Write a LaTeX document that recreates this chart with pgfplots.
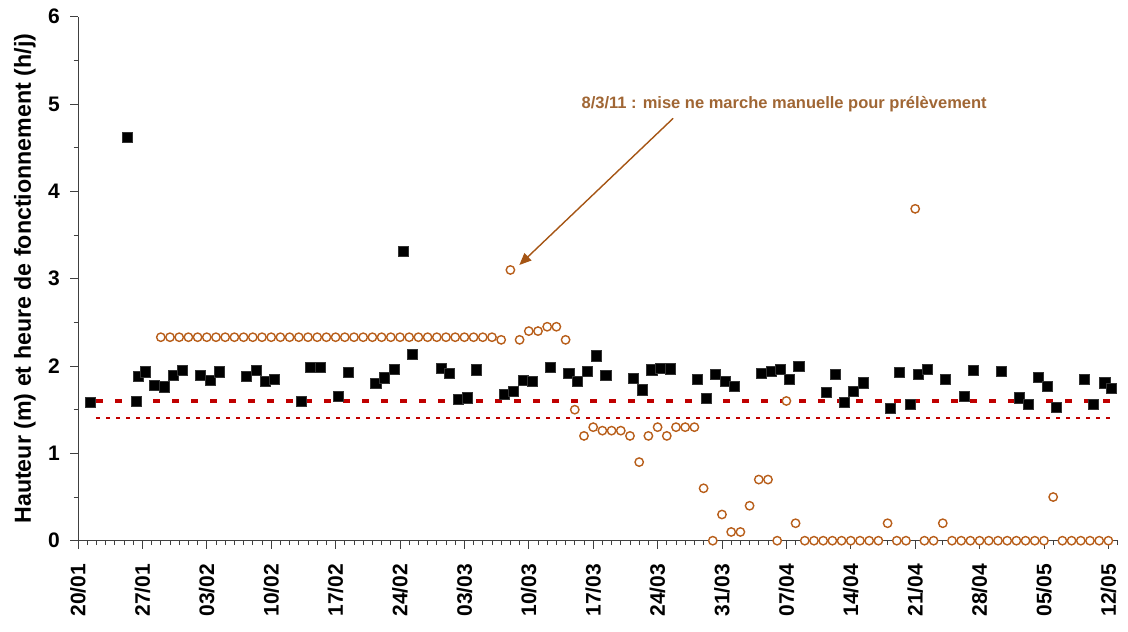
\documentclass[border=0pt]{standalone}
\usepackage{fontspec}
\setmainfont{Liberation Sans}
\usepackage{pgfplots}
\usepackage{pgfplotstable}
\pgfplotsset{compat=1.18}
\usetikzlibrary{arrows.meta}
\definecolor{orng}{RGB}{184,94,26}
\definecolor{annot}{RGB}{160,102,52}
\definecolor{arr}{RGB}{165,85,20}
\definecolor{dred}{RGB}{192,0,0}

\pgfplotstableread{
x y
9 2.33
10 2.33
11 2.33
12 2.33
13 2.33
14 2.33
15 2.33
16 2.33
17 2.33
18 2.33
19 2.33
20 2.33
21 2.33
22 2.33
23 2.33
24 2.33
25 2.33
26 2.33
27 2.33
28 2.33
29 2.33
30 2.33
31 2.33
32 2.33
33 2.33
34 2.33
35 2.33
36 2.33
37 2.33
38 2.33
39 2.33
40 2.33
41 2.33
42 2.33
43 2.33
44 2.33
45 2.33
46 2.30
47 3.10
48 2.30
49 2.40
50 2.40
51 2.45
52 2.45
53 2.30
54 1.50
55 1.20
56 1.30
57 1.26
58 1.26
59 1.26
60 1.20
61 0.90
62 1.20
63 1.30
64 1.20
65 1.30
66 1.30
67 1.30
68 0.60
69 0
70 0.30
71 0.10
72 0.10
73 0.40
74 0.70
75 0.70
76 0
77 1.60
78 0.20
79 0
80 0
81 0
82 0
83 0
84 0
85 0
86 0
87 0
88 0.20
89 0
90 0
91 3.80
92 0
93 0
94 0.20
95 0
96 0
97 0
98 0
99 0
100 0
101 0
102 0
103 0
104 0
105 0
106 0.50
107 0
108 0
109 0
110 0
111 0
112 0
}\circdata

\pgfplotstableread{
x y
1.30 1.584
5.33 4.62
6.30 1.595
6.52 1.878
7.32 1.935
8.33 1.779
9.35 1.763
10.36 1.893
11.38 1.954
13.33 1.893
14.35 1.836
15.36 1.935
18.33 1.878
19.35 1.950
20.36 1.828
21.30 1.847
24.30 1.60
25.29 1.989
26.30 1.989
28.33 1.656
29.35 1.927
32.36 1.798
33.30 1.866
34.38 1.966
35.40 3.317
36.33 2.137
39.49 1.977
40.36 1.920
41.38 1.615
42.32 1.637
43.33 1.958
46.30 1.679
47.32 1.710
48.37 1.836
49.35 1.828
51.34 1.989
53.34 1.920
54.30 1.828
55.33 1.943
56.35 2.118
57.36 1.897
60.36 1.859
61.33 1.729
62.36 1.958
63.33 1.977
64.35 1.969
67.32 1.851
68.33 1.626
69.30 1.908
70.33 1.821
71.30 1.767
74.30 1.916
75.33 1.943
76.35 1.966
77.33 1.847
78.35 1.996
81.30 1.695
82.30 1.908
83.30 1.588
84.30 1.710
85.33 1.809
88.30 1.515
89.30 1.927
90.47 1.561
91.30 1.908
92.32 1.966
94.30 1.847
96.30 1.656
97.32 1.947
100.32 1.939
102.31 1.637
103.33 1.565
104.35 1.874
105.33 1.767
106.35 1.527
109.35 1.847
110.36 1.565
111.60 1.809
112.35 1.744
}\sqdata

\begin{document}
\begin{tikzpicture}[x=1pt,y=1pt]
\path[use as bounding box] (0,0) rectangle (1128,632);
\begin{axis}[
  at={(78pt,91.3pt)}, anchor=south west,
  scale only axis, width=1039.6pt, height=524pt,
  xmin=0, xmax=113, ymin=0, ymax=6,
  axis x line=bottom, axis y line=left,
  axis line style={-, black!75, line width=0.9pt},
  xtick={0,7,...,112},
  xticklabels={20/01,27/01,03/02,10/02,17/02,24/02,03/03,10/03,17/03,24/03,31/03,07/04,14/04,21/04,28/04,05/05,12/05},
  minor xtick={1,...,113},
  ytick={0,1,...,6},
  minor ytick={0.5,1.5,...,5.5},
  tick align=outside,
  major tick length=8pt, minor tick length=4.5pt,
  tick style={black!75, line width=0.8pt},
  /pgf/number format/assume math mode=true,
  xticklabel style={font=\fontsize{21}{24}\selectfont\bfseries, rotate=90, anchor=east, inner sep=0pt, xshift=-15pt},
  yticklabel style={font=\fontsize{21}{24}\selectfont\bfseries, anchor=east, inner sep=0pt, xshift=-10pt},
  clip=false,
]
\addplot[dred, line width=3.5pt, dash pattern=on 7pt off 12pt] coordinates {(2,1.6) (113,1.6)};
\addplot[dred, line width=2pt, dash pattern=on 4pt off 6pt] coordinates {(2,1.4) (112.5,1.4)};
\addplot[only marks, mark=*, mark size=4.2pt, mark options={draw=orng, fill=white, line width=1.4pt}] table {\circdata};
\addplot[only marks, mark=square*, mark size=5.1pt, mark options={draw=black!80, fill=black, line width=0.6pt}] table {\sqdata};
\draw[arr, line width=1.4pt, -{Triangle[length=12pt,width=10pt]}] (axis cs:64.7,4.837) -- (axis cs:47.97,3.157);
\node[annot, anchor=base, font=\fontsize{16.5}{20}\selectfont\bfseries, inner sep=0pt] at (axis cs:76.76,4.951) {8/3/11 : mise ne marche manuelle pour prélèvement};
\end{axis}
\node[rotate=90, font=\fontsize{23.2}{26}\selectfont\bfseries, inner sep=0pt] at (25,353.3) {Hauteur (m) et heure de fonctionnement (h/j)};
\end{tikzpicture}
\end{document}
